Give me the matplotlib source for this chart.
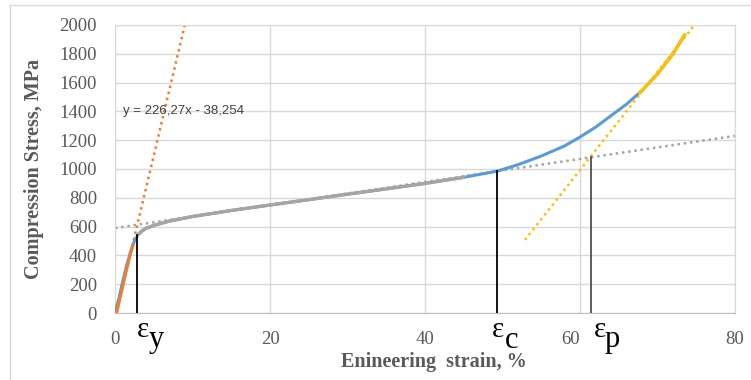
import numpy as np
import matplotlib.pyplot as plt
from matplotlib.lines import Line2D

# compression curve: engineering strain (%) vs stress (MPa)
strain = [0, 0.5, 1, 1.5, 2, 2.5, 3, 3.5, 4, 5, 7, 10, 15, 20, 25, 30, 35, 40, 45,
          49.3, 52, 55, 58, 60, 62, 64, 66, 68, 70, 72, 73.5]
stress = [0, 100, 220, 330, 420, 500, 545, 570, 588, 608, 638, 670, 712, 750, 787,
          825, 862, 900, 942, 985, 1030, 1090, 1160, 1222, 1290, 1370, 1450, 1545,
          1660, 1800, 1930]

# elastic portion used for the linear fit
el_strain = [0.2, 0.8, 1.4, 2.0, 2.3]
el_stress = [0, 140, 280, 415, 470]

# trendlines (slope, intercept, x range)
fit_elastic = (226.27, -38.254, 0.17, 9.0)
fit_plateau = (8.0, 590, 0.0, 80.0)
fit_densif = (68.2, -3100, 52.9, 74.8)

# characteristic strains
eps_y, sig_y = 2.84, 545
eps_c, sig_c = 49.3, 985
eps_p, sig_p = 61.4, 1083

blue, orange, grey, yellow = '#5b9bd5', '#ed7d31', '#a5a5a5', '#ffc000'
tick_col = '#595959'
serif = 'Liberation Serif'

fig = plt.figure(figsize=(7.51, 3.80), dpi=100)
ax = fig.add_axes([115 / 751, 1 - 313 / 380, 620 / 751, 288 / 380])

s = np.array(strain)
t = np.array(stress)
ax.plot(s, t, color=blue, lw=2.2, solid_capstyle='round', zorder=3)
m = (s >= 3) & (s <= 46)
ax.plot(s[m], t[m], color=grey, lw=2.4, zorder=4)
m = s >= 68
ax.plot(np.r_[67.7, s[m]], np.r_[1528, t[m]], color=yellow, lw=2.4, zorder=4)
ax.plot(el_strain, el_stress, color=orange, lw=2.2, zorder=4)

for (k, b, x0, x1), c in [(fit_elastic, orange), (fit_plateau, grey), (fit_densif, yellow)]:
    xx = np.array([x0, x1])
    ax.plot(xx, k * xx + b, color=c, lw=1.8, ls=(0, (1, 1.5)), zorder=2)

for e, sg, col in [(eps_y, sig_y, 'black'), (eps_c, sig_c, 'black'), (eps_p, sig_p, '#505050')]:
    ax.plot([e, e], [0, sg], color=col, lw=1.3, zorder=5)

ax.text(1.0, 1400, 'y = 226,27x - 38,254', fontsize=9.5, color='#404040',
        family='Liberation Sans', va='center')

ax.set_xlim(0, 80)
ax.set_ylim(0, 2000)
ax.set_xticks([0, 20, 40, 60, 80])
ax.set_yticks(range(0, 2001, 200))
ax.grid(True, color='#d9d9d9', lw=1)
ax.set_axisbelow(True)
for sp in ax.spines.values():
    sp.set_color('#d9d9d9')
ax.spines['bottom'].set_color('#bfbfbf')
ax.tick_params(length=0, labelsize=13.5, labelcolor=tick_col)
ax.tick_params(axis='x', pad=13)
ax.tick_params(axis='y', pad=13)
for lab in ax.get_xticklabels() + ax.get_yticklabels():
    lab.set_family(serif)
ax.get_xticklabels()[3].set_horizontalalignment('right')
ax.get_xticklabels()[3].set_x(60.9)

ax.set_xlabel('Enineering  strain, %', family=serif, weight='bold',
              fontsize=14.5, color=tick_col)
ax.set_ylabel('Compression Stress, MPa', family=serif, weight='bold',
              fontsize=14.5, color=tick_col)
ax.xaxis.set_label_coords(0.515, -0.137)
ax.yaxis.set_label_coords(-0.114, 0.5)

# strain markers below the axis
for e, sub, dx, dsub in [(eps_y, 'y', 6, 19), (eps_c, 'c', 1, 15), (eps_p, 'p', 9, 21)]:
    ax.annotate('ε', (e, 0), xytext=(dx * 0.72, -3), textcoords='offset points',
                ha='center', va='top', family=serif, fontsize=21)
    ax.annotate(sub, (e, 0), xytext=(dsub * 0.72, -9), textcoords='offset points',
                ha='center', va='top', family=serif, fontsize=22)

# light outer frame
fig.add_artist(Line2D([10 / 751, 10 / 751], [0, 1 - 5 / 380], color='#d9d9d9', lw=1))
fig.add_artist(Line2D([10 / 751, 1], [1 - 5 / 380, 1 - 5 / 380], color='#d9d9d9', lw=1))

fig.savefig('out.png', dpi=100)
